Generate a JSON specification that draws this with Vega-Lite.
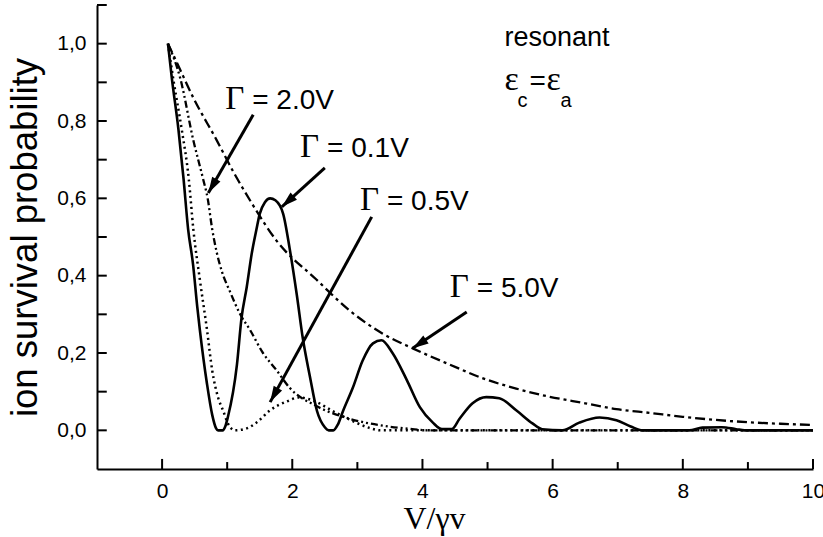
{
  "$schema": "https://vega.github.io/schema/vega-lite/v6.json",
  "width": 716,
  "height": 464,
  "autosize": {"type": "none"},
  "padding": {"left": 97, "top": 5, "right": 10, "bottom": 68},
  "background": "white",
  "config": {
    "view": {"stroke": null},
    "axis": {
      "grid": false,
      "domainColor": "black",
      "domainWidth": 2,
      "ticks": false,
      "tickSize": 0,
      "labelColor": "black",
      "titleColor": "black",
      "labelFont": "Liberation Sans",
      "labelFontSize": 21,
      "labelOverlap": false,
      "labelFlush": false,
      "labelBound": false,
      "titleFontWeight": "normal"
    }
  },
  "datasets": {
    "curves": [
      {"s": "0.1", "x": 0.09, "y": 1.0}, {"s": "0.1", "x": 0.15, "y": 0.91}, {"s": "0.1", "x": 0.25, "y": 0.78}, {"s": "0.1", "x": 0.33, "y": 0.65}, {"s": "0.1", "x": 0.40, "y": 0.52}, {"s": "0.1", "x": 0.475, "y": 0.43}, {"s": "0.1", "x": 0.54, "y": 0.32}, {"s": "0.1", "x": 0.58, "y": 0.26}, {"s": "0.1", "x": 0.69, "y": 0.12}, {"s": "0.1", "x": 0.77, "y": 0.04}, {"s": "0.1", "x": 0.83, "y": 0.005}, {"s": "0.1", "x": 0.86, "y": 0.0}, {"s": "0.1", "x": 0.93, "y": 0.0}, {"s": "0.1", "x": 0.97, "y": 0.01}, {"s": "0.1", "x": 1.01, "y": 0.034}, {"s": "0.1", "x": 1.15, "y": 0.17}, {"s": "0.1", "x": 1.22, "y": 0.29}, {"s": "0.1", "x": 1.30, "y": 0.37}, {"s": "0.1", "x": 1.38, "y": 0.46}, {"s": "0.1", "x": 1.45, "y": 0.52}, {"s": "0.1", "x": 1.50, "y": 0.56}, {"s": "0.1", "x": 1.58, "y": 0.59}, {"s": "0.1", "x": 1.66, "y": 0.60}, {"s": "0.1", "x": 1.74, "y": 0.595}, {"s": "0.1", "x": 1.86, "y": 0.56}, {"s": "0.1", "x": 1.96, "y": 0.47}, {"s": "0.1", "x": 2.07, "y": 0.35}, {"s": "0.1", "x": 2.16, "y": 0.24}, {"s": "0.1", "x": 2.27, "y": 0.14}, {"s": "0.1", "x": 2.38, "y": 0.05}, {"s": "0.1", "x": 2.50, "y": 0.008}, {"s": "0.1", "x": 2.56, "y": 0.0}, {"s": "0.1", "x": 2.63, "y": 0.0}, {"s": "0.1", "x": 2.70, "y": 0.015}, {"s": "0.1", "x": 2.78, "y": 0.05}, {"s": "0.1", "x": 2.93, "y": 0.11}, {"s": "0.1", "x": 3.08, "y": 0.18}, {"s": "0.1", "x": 3.24, "y": 0.225}, {"s": "0.1", "x": 3.37, "y": 0.233}, {"s": "0.1", "x": 3.54, "y": 0.20}, {"s": "0.1", "x": 3.76, "y": 0.13}, {"s": "0.1", "x": 3.96, "y": 0.06}, {"s": "0.1", "x": 4.16, "y": 0.02}, {"s": "0.1", "x": 4.30, "y": 0.003}, {"s": "0.1", "x": 4.45, "y": 0.003}, {"s": "0.1", "x": 4.57, "y": 0.03}, {"s": "0.1", "x": 4.77, "y": 0.07}, {"s": "0.1", "x": 4.98, "y": 0.086}, {"s": "0.1", "x": 5.18, "y": 0.083}, {"s": "0.1", "x": 5.44, "y": 0.052}, {"s": "0.1", "x": 5.69, "y": 0.018}, {"s": "0.1", "x": 5.84, "y": 0.003}, {"s": "0.1", "x": 6.15, "y": 0.0}, {"s": "0.1", "x": 6.41, "y": 0.02}, {"s": "0.1", "x": 6.72, "y": 0.033}, {"s": "0.1", "x": 6.98, "y": 0.026}, {"s": "0.1", "x": 7.20, "y": 0.01}, {"s": "0.1", "x": 7.38, "y": 0.0}, {"s": "0.1", "x": 8.10, "y": 0.0}, {"s": "0.1", "x": 8.30, "y": 0.007}, {"s": "0.1", "x": 8.60, "y": 0.008}, {"s": "0.1", "x": 8.82, "y": 0.003}, {"s": "0.1", "x": 8.95, "y": 0.0}, {"s": "0.1", "x": 10.0, "y": 0.0},

      {"s": "0.5", "x": 0.09, "y": 1.0}, {"s": "0.5", "x": 0.18, "y": 0.90}, {"s": "0.5", "x": 0.30, "y": 0.78}, {"s": "0.5", "x": 0.41, "y": 0.65}, {"s": "0.5", "x": 0.48, "y": 0.52}, {"s": "0.5", "x": 0.58, "y": 0.39}, {"s": "0.5", "x": 0.69, "y": 0.26}, {"s": "0.5", "x": 0.77, "y": 0.155}, {"s": "0.5", "x": 0.86, "y": 0.085}, {"s": "0.5", "x": 0.94, "y": 0.05}, {"s": "0.5", "x": 1.01, "y": 0.018}, {"s": "0.5", "x": 1.12, "y": 0.0}, {"s": "0.5", "x": 1.30, "y": 0.005}, {"s": "0.5", "x": 1.45, "y": 0.02}, {"s": "0.5", "x": 1.66, "y": 0.052}, {"s": "0.5", "x": 1.92, "y": 0.075}, {"s": "0.5", "x": 2.10, "y": 0.085}, {"s": "0.5", "x": 2.35, "y": 0.075}, {"s": "0.5", "x": 2.62, "y": 0.05}, {"s": "0.5", "x": 2.88, "y": 0.028}, {"s": "0.5", "x": 3.19, "y": 0.006}, {"s": "0.5", "x": 3.35, "y": 0.0}, {"s": "0.5", "x": 10.0, "y": 0.0},

      {"s": "2.0", "x": 0.09, "y": 1.0}, {"s": "2.0", "x": 0.28, "y": 0.91}, {"s": "2.0", "x": 0.48, "y": 0.75}, {"s": "2.0", "x": 0.63, "y": 0.65}, {"s": "2.0", "x": 0.70, "y": 0.60}, {"s": "2.0", "x": 0.77, "y": 0.52}, {"s": "2.0", "x": 0.84, "y": 0.46}, {"s": "2.0", "x": 0.92, "y": 0.41}, {"s": "2.0", "x": 1.04, "y": 0.36}, {"s": "2.0", "x": 1.20, "y": 0.30}, {"s": "2.0", "x": 1.35, "y": 0.26}, {"s": "2.0", "x": 1.55, "y": 0.20}, {"s": "2.0", "x": 1.76, "y": 0.155}, {"s": "2.0", "x": 1.96, "y": 0.11}, {"s": "2.0", "x": 2.37, "y": 0.063}, {"s": "2.0", "x": 2.88, "y": 0.03}, {"s": "2.0", "x": 3.39, "y": 0.012}, {"s": "2.0", "x": 3.80, "y": 0.004}, {"s": "2.0", "x": 4.10, "y": 0.0}, {"s": "2.0", "x": 10.0, "y": 0.0},

      {"s": "5.0", "x": 0.09, "y": 1.0}, {"s": "5.0", "x": 0.23, "y": 0.95}, {"s": "5.0", "x": 0.48, "y": 0.86}, {"s": "5.0", "x": 0.84, "y": 0.75}, {"s": "5.0", "x": 1.09, "y": 0.67}, {"s": "5.0", "x": 1.35, "y": 0.595}, {"s": "5.0", "x": 1.76, "y": 0.49}, {"s": "5.0", "x": 2.37, "y": 0.39}, {"s": "5.0", "x": 2.88, "y": 0.31}, {"s": "5.0", "x": 3.39, "y": 0.25}, {"s": "5.0", "x": 3.85, "y": 0.212}, {"s": "5.0", "x": 4.42, "y": 0.17}, {"s": "5.0", "x": 4.92, "y": 0.135}, {"s": "5.0", "x": 5.44, "y": 0.108}, {"s": "5.0", "x": 5.95, "y": 0.087}, {"s": "5.0", "x": 6.50, "y": 0.07}, {"s": "5.0", "x": 6.98, "y": 0.055}, {"s": "5.0", "x": 7.50, "y": 0.045}, {"s": "5.0", "x": 8.00, "y": 0.035}, {"s": "5.0", "x": 8.50, "y": 0.027}, {"s": "5.0", "x": 9.00, "y": 0.021}, {"s": "5.0", "x": 9.50, "y": 0.017}, {"s": "5.0", "x": 10.0, "y": 0.014}
    ],
    "notes": [
      {"label": "2.0", "g": "Γ", "rest": "= 2.0V", "gx": 0.97, "gy": 0.831, "x": 1.40, "y": 0.816, "x2": 0.71, "y2": 0.614},
      {"label": "0.1", "g": "Γ", "rest": "= 0.1V", "gx": 2.12, "gy": 0.706, "x": 2.50, "y": 0.679, "x2": 1.84, "y2": 0.578},
      {"label": "0.5", "g": "Γ", "rest": "= 0.5V", "gx": 3.04, "gy": 0.570, "x": 3.22, "y": 0.552, "x2": 1.66, "y2": 0.073},
      {"label": "5.0", "g": "Γ", "rest": "= 5.0V", "gx": 4.42, "gy": 0.344, "x": 4.68, "y": 0.306, "x2": 3.85, "y2": 0.212}
    ],
    "xmajor": [{"v": 0}, {"v": 2}, {"v": 4}, {"v": 6}, {"v": 8}, {"v": 10}],
    "xminor": [{"v": 1}, {"v": 3}, {"v": 5}, {"v": 7}, {"v": 9}],
    "yticks": [{"v": 0}, {"v": 0.1}, {"v": 0.2}, {"v": 0.3}, {"v": 0.4}, {"v": 0.5}, {"v": 0.6}, {"v": 0.7}, {"v": 0.8}, {"v": 0.9}, {"v": 1.0}, {"v": 1.1}],
    "anchor": [{"x": 5.26, "y": 0.993, "y2": 0.881}]
  },
  "layer": [
    {
      "data": {"name": "curves"},
      "transform": [{"filter": "datum.s == '0.1'"}],
      "mark": {"type": "line", "color": "black", "strokeWidth": 2.6, "interpolate": "monotone"},
      "encoding": {
        "x": {
          "field": "x", "type": "quantitative",
          "scale": {"domain": [-1, 10], "nice": false, "zero": false},
          "axis": {
            "values": [0, 2, 4, 6, 8, 10],
            "labelExpr": "format(datum.value, 'd')",
            "labelPadding": 11,
            "title": "V/γv",
            "titleFont": "Liberation Serif",
            "titleFontSize": 32,
            "titlePadding": 2,
            "titleX": 337
          }
        },
        "y": {
          "field": "y", "type": "quantitative",
          "scale": {"domain": [-0.1, 1.1], "nice": false, "zero": false},
          "axis": {
            "values": [0, 0.2, 0.4, 0.6, 0.8, 1.0],
            "labelExpr": "replace(format(datum.value, '.1f'), '.', ',')",
            "labelPadding": 11,
            "title": "ion survival probability",
            "titleFont": "Liberation Sans",
            "titleFontSize": 36.5,
            "titlePadding": 12
          }
        }
      }
    },
    {
      "data": {"name": "curves"},
      "transform": [{"filter": "datum.s == '0.5'"}],
      "mark": {"type": "line", "color": "black", "strokeWidth": 2.5, "strokeDash": [2, 3.5], "interpolate": "monotone"},
      "encoding": {"x": {"field": "x", "type": "quantitative"}, "y": {"field": "y", "type": "quantitative"}}
    },
    {
      "data": {"name": "curves"},
      "transform": [{"filter": "datum.s == '2.0'"}],
      "mark": {"type": "line", "color": "black", "strokeWidth": 2.3, "strokeDash": [7, 3, 2, 3, 2, 3], "interpolate": "monotone"},
      "encoding": {"x": {"field": "x", "type": "quantitative"}, "y": {"field": "y", "type": "quantitative"}}
    },
    {
      "data": {"name": "curves"},
      "transform": [{"filter": "datum.s == '5.0'"}],
      "mark": {"type": "line", "color": "black", "strokeWidth": 2.3, "strokeDash": [10, 4, 3, 4], "interpolate": "monotone"},
      "encoding": {"x": {"field": "x", "type": "quantitative"}, "y": {"field": "y", "type": "quantitative"}}
    },
    {
      "data": {"name": "xmajor"},
      "mark": {"type": "rule", "color": "black", "strokeWidth": 2},
      "encoding": {"x": {"field": "v", "type": "quantitative"}, "y": {"datum": -0.1}, "y2": {"datum": -0.074}}
    },
    {
      "data": {"name": "xminor"},
      "mark": {"type": "rule", "color": "black", "strokeWidth": 2},
      "encoding": {"x": {"field": "v", "type": "quantitative"}, "y": {"datum": -0.1}, "y2": {"datum": -0.082}}
    },
    {
      "data": {"name": "yticks"},
      "mark": {"type": "rule", "color": "black", "strokeWidth": 2},
      "encoding": {"y": {"field": "v", "type": "quantitative"}, "x": {"datum": -1}, "x2": {"datum": -0.85}}
    },
    {
      "data": {"name": "notes"},
      "mark": {"type": "rule", "color": "black", "strokeWidth": 3},
      "encoding": {
        "x": {"field": "x", "type": "quantitative"}, "y": {"field": "y", "type": "quantitative"},
        "x2": {"field": "x2"}, "y2": {"field": "y2"}
      }
    },
    {
      "data": {"name": "notes"},
      "transform": [{"filter": "datum.label == '2.0'"}],
      "mark": {"type": "point", "shape": "M0,0L-0.6,2L0.6,2Z", "filled": true, "color": "black", "opacity": 1, "size": 256, "angle": 210},
      "encoding": {"x": {"field": "x2", "type": "quantitative"}, "y": {"field": "y2", "type": "quantitative"}}
    },
    {
      "data": {"name": "notes"},
      "transform": [{"filter": "datum.label == '0.1'"}],
      "mark": {"type": "point", "shape": "M0,0L-0.6,2L0.6,2Z", "filled": true, "color": "black", "opacity": 1, "size": 256, "angle": 228},
      "encoding": {"x": {"field": "x2", "type": "quantitative"}, "y": {"field": "y2", "type": "quantitative"}}
    },
    {
      "data": {"name": "notes"},
      "transform": [{"filter": "datum.label == '0.5'"}],
      "mark": {"type": "point", "shape": "M0,0L-0.6,2L0.6,2Z", "filled": true, "color": "black", "opacity": 1, "size": 256, "angle": 209},
      "encoding": {"x": {"field": "x2", "type": "quantitative"}, "y": {"field": "y2", "type": "quantitative"}}
    },
    {
      "data": {"name": "notes"},
      "transform": [{"filter": "datum.label == '5.0'"}],
      "mark": {"type": "point", "shape": "M0,0L-0.6,2L0.6,2Z", "filled": true, "color": "black", "opacity": 1, "size": 256, "angle": 236},
      "encoding": {"x": {"field": "x2", "type": "quantitative"}, "y": {"field": "y2", "type": "quantitative"}}
    },
    {
      "data": {"name": "notes"},
      "mark": {"type": "text", "font": "Liberation Serif", "fontSize": 33, "align": "left", "baseline": "alphabetic", "color": "black"},
      "encoding": {"x": {"field": "gx", "type": "quantitative"}, "y": {"field": "gy", "type": "quantitative"}, "text": {"field": "g"}}
    },
    {
      "data": {"name": "notes"},
      "mark": {"type": "text", "font": "Liberation Sans", "fontSize": 28, "align": "left", "baseline": "alphabetic", "color": "black", "dx": 27},
      "encoding": {"x": {"field": "gx", "type": "quantitative"}, "y": {"field": "gy", "type": "quantitative"}, "text": {"field": "rest"}}
    },
    {
      "data": {"name": "anchor"},
      "mark": {"type": "text", "font": "Liberation Sans", "fontSize": 27, "align": "left", "baseline": "alphabetic", "color": "black", "text": "resonant"},
      "encoding": {"x": {"field": "x", "type": "quantitative"}, "y": {"field": "y", "type": "quantitative"}}
    },
    {
      "data": {"name": "anchor"},
      "mark": {"type": "text", "font": "Liberation Serif", "fontSize": 34, "align": "left", "baseline": "alphabetic", "color": "black", "text": "ε"},
      "encoding": {"x": {"field": "x", "type": "quantitative"}, "y": {"field": "y2", "type": "quantitative"}}
    },
    {
      "data": {"name": "anchor"},
      "mark": {"type": "text", "font": "Liberation Sans", "fontSize": 20, "align": "left", "baseline": "alphabetic", "color": "black", "text": "c", "dx": 13, "dy": 17},
      "encoding": {"x": {"field": "x", "type": "quantitative"}, "y": {"field": "y2", "type": "quantitative"}}
    },
    {
      "data": {"name": "anchor"},
      "mark": {"type": "text", "font": "Liberation Sans", "fontSize": 28, "align": "left", "baseline": "alphabetic", "color": "black", "text": "=", "dx": 25},
      "encoding": {"x": {"field": "x", "type": "quantitative"}, "y": {"field": "y2", "type": "quantitative"}}
    },
    {
      "data": {"name": "anchor"},
      "mark": {"type": "text", "font": "Liberation Serif", "fontSize": 34, "align": "left", "baseline": "alphabetic", "color": "black", "text": "ε", "dx": 42},
      "encoding": {"x": {"field": "x", "type": "quantitative"}, "y": {"field": "y2", "type": "quantitative"}}
    },
    {
      "data": {"name": "anchor"},
      "mark": {"type": "text", "font": "Liberation Sans", "fontSize": 20, "align": "left", "baseline": "alphabetic", "color": "black", "text": "a", "dx": 56, "dy": 17},
      "encoding": {"x": {"field": "x", "type": "quantitative"}, "y": {"field": "y2", "type": "quantitative"}}
    }
  ]
}
